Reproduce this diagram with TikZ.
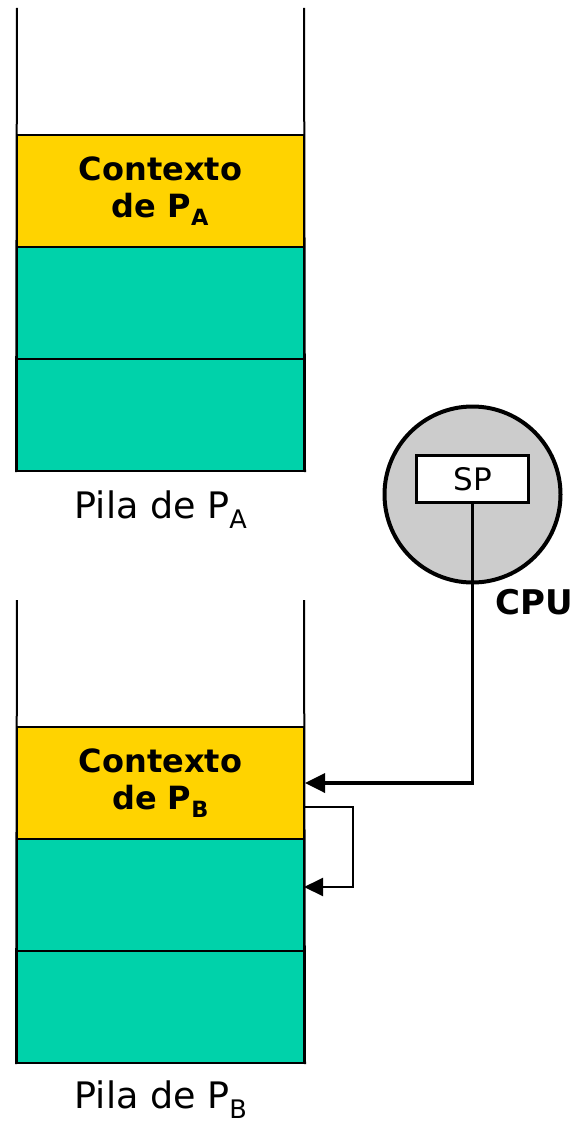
\documentclass[tikz,border=0pt]{standalone}
\usepackage{fontspec}
\setmainfont{DejaVu Sans}
\usetikzlibrary{arrows.meta}
\definecolor{ctxyellow}{HTML}{FFD300}
\definecolor{stkteal}{HTML}{00D2AA}
\definecolor{cpugray}{HTML}{CCCCCC}
\begin{document}
\begin{tikzpicture}[x=1pt,y=-1pt,
  ctxbox/.style={draw=black,line width=2pt,fill=ctxyellow,minimum width=287pt,minimum height=112pt,inner sep=0pt,align=center,font=\fontsize{32}{37}\selectfont\bfseries},
  frmbox/.style={draw=black,line width=2pt,fill=stkteal,minimum width=287pt,minimum height=112pt,inner sep=0pt},
  side/.style={line width=2pt},
  stklabel/.style={font=\fontsize{36.5}{40}\selectfont,inner sep=0pt,anchor=base},
  bigarrow/.style={line width=3.5pt,-{Triangle[length=20pt,width=19pt]}},
  smallarrow/.style={line width=2pt,-{Triangle[length=19pt,width=18pt]}}
]
\useasboundingbox (0,0) rectangle (574,1123);
% Stack A
\coordinate (a0) at (17,8);
\coordinate (a1) at (304,8);
\node[ctxbox] (actx) at (160.5,191) {Contexto\\de P\textsubscript{A}};
\node[frmbox] (af1) at (160.5,303) {};
\node[frmbox] (af2) at (160.5,415) {};
\draw[side] (a0) -- (af2.south west);
\draw[side] (a1) -- (af2.south east);
\node[stklabel] (alab) at (161,518) {Pila de P\textsubscript{A}};
% Stack B
\coordinate (b0) at (17,600);
\coordinate (b1) at (304,600);
\node[ctxbox] (bctx) at (160.5,783) {Contexto\\de P\textsubscript{B}};
\node[frmbox] (bf1) at (160.5,895) {};
\node[frmbox] (bf2) at (160.5,1007) {};
\draw[side] (b0) -- (bf2.south west);
\draw[side] (b1) -- (bf2.south east);
\node[stklabel] (blab) at (161,1108) {Pila de P\textsubscript{B}};
% CPU
\node[circle,draw=black,line width=4pt,fill=cpugray,minimum size=176pt] (cpu) at (472.5,494.5) {};
\node[draw=black,line width=2.5pt,fill=white,minimum width=112pt,minimum height=47pt,inner sep=0pt,font=\fontsize{31}{34}\selectfont] (sp) at (472.5,479) {SP};
\node[font=\fontsize{34}{37}\selectfont\bfseries,anchor=base west,inner sep=0pt] (cpulab) at (495,614) {CPU};
% arrows
\coordinate (bend) at (472.5,783);
\draw[bigarrow] (sp.south) -- (bend) -- (bctx.east);
\coordinate (s0) at (304,807);
\coordinate (s1) at (353,807);
\coordinate (s2) at (353,887);
\coordinate (s3) at (304,887);
\draw[smallarrow] (s0) -- (s1) -- (s2) -- (s3);
\end{tikzpicture}
\end{document}
